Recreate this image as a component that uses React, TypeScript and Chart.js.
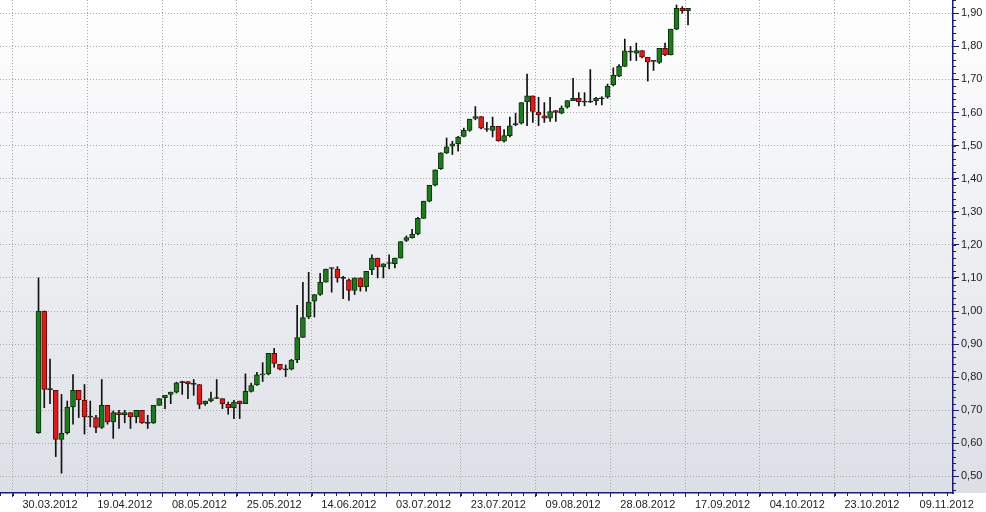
import React, { useEffect, useRef } from 'react';
import { Chart, registerables } from 'chart.js';

Chart.register(...registerables);

// x tick labels (one every 13 trading days, first at index 0)
const dateLabels = [
  '30.03.2012', '19.04.2012', '08.05.2012', '25.05.2012', '14.06.2012', '03.07.2012', '23.07.2012',
  '09.08.2012', '28.08.2012', '17.09.2012', '04.10.2012', '23.10.2012', '09.11.2012',
];
const labelStep = 13;
const firstIndex = -2; // trading-day index of the first candle

const opens = [
  0.632, 1.000, 0.763, 0.760, 0.612, 0.632, 0.710, 0.760, 0.730, 0.682,
  0.678, 0.648, 0.715, 0.665, 0.693, 0.687, 0.693, 0.680, 0.700, 0.662,
  0.662, 0.715, 0.738, 0.748, 0.755, 0.785, 0.787, 0.780, 0.778, 0.720,
  0.728, 0.737, 0.735, 0.718, 0.708, 0.728, 0.720, 0.757, 0.777, 0.807,
  0.810, 0.872, 0.839, 0.824, 0.824, 0.852, 0.920, 0.982, 1.030, 1.050,
  1.087, 1.130, 1.127, 1.100, 1.094, 1.062, 1.100, 1.073, 1.125, 1.160,
  1.133, 1.145, 1.143, 1.160, 1.213, 1.222, 1.233, 1.280, 1.332, 1.380,
  1.430, 1.478, 1.498, 1.506, 1.528, 1.546, 1.582, 1.588, 1.550, 1.546,
  1.558, 1.513, 1.530, 1.565, 1.568, 1.632, 1.650, 1.601, 1.590, 1.583,
  1.606, 1.598, 1.616, 1.636, 1.643, 1.633, 1.633, 1.636, 1.643, 1.646,
  1.683, 1.710, 1.739, 1.784, 1.779, 1.787, 1.767, 1.756, 1.751, 1.794,
  1.774, 1.852, 1.915, 1.908,
];
const highs = [
  1.100, 1.000, 0.855, 0.760, 0.748, 0.728, 0.808, 0.760, 0.778, 0.728,
  0.685, 0.793, 0.715, 0.698, 0.700, 0.700, 0.693, 0.700, 0.700, 0.685,
  0.715, 0.735, 0.745, 0.755, 0.785, 0.788, 0.787, 0.793, 0.778, 0.728,
  0.755, 0.793, 0.735, 0.725, 0.730, 0.728, 0.810, 0.782, 0.815, 0.844,
  0.872, 0.887, 0.839, 0.837, 0.854, 1.017, 1.087, 1.117, 1.050, 1.114,
  1.127, 1.130, 1.134, 1.105, 1.097, 1.100, 1.100, 1.120, 1.170, 1.160,
  1.143, 1.170, 1.160, 1.210, 1.227, 1.247, 1.283, 1.332, 1.380, 1.427,
  1.478, 1.523, 1.513, 1.528, 1.553, 1.580, 1.618, 1.588, 1.570, 1.586,
  1.558, 1.548, 1.586, 1.598, 1.630, 1.716, 1.650, 1.646, 1.630, 1.646,
  1.606, 1.620, 1.636, 1.703, 1.660, 1.660, 1.730, 1.646, 1.648, 1.686,
  1.735, 1.745, 1.822, 1.800, 1.810, 1.787, 1.767, 1.756, 1.794, 1.810,
  1.852, 1.925, 1.920, 1.915,
];
const lows = [
  0.630, 0.708, 0.720, 0.560, 0.510, 0.628, 0.658, 0.678, 0.628, 0.650,
  0.632, 0.645, 0.658, 0.615, 0.645, 0.662, 0.645, 0.662, 0.660, 0.645,
  0.660, 0.715, 0.705, 0.720, 0.752, 0.748, 0.735, 0.745, 0.705, 0.715,
  0.725, 0.735, 0.705, 0.688, 0.675, 0.675, 0.720, 0.755, 0.775, 0.787,
  0.807, 0.830, 0.822, 0.802, 0.822, 0.844, 0.920, 0.977, 0.982, 1.047,
  1.087, 1.057, 1.087, 1.037, 1.032, 1.050, 1.060, 1.060, 1.110, 1.100,
  1.100, 1.127, 1.130, 1.160, 1.210, 1.220, 1.230, 1.280, 1.330, 1.378,
  1.428, 1.476, 1.473, 1.483, 1.526, 1.543, 1.578, 1.550, 1.543, 1.526,
  1.513, 1.510, 1.526, 1.560, 1.565, 1.560, 1.570, 1.560, 1.570, 1.573,
  1.573, 1.596, 1.613, 1.636, 1.620, 1.620, 1.630, 1.623, 1.623, 1.643,
  1.680, 1.708, 1.739, 1.757, 1.757, 1.765, 1.695, 1.727, 1.748, 1.772,
  1.774, 1.850, 1.900, 1.865,
];
const closes = [
  1.000, 0.763, 0.765, 0.612, 0.630, 0.710, 0.760, 0.732, 0.680, 0.680,
  0.648, 0.715, 0.665, 0.693, 0.687, 0.693, 0.680, 0.700, 0.662, 0.662,
  0.715, 0.735, 0.745, 0.755, 0.783, 0.785, 0.780, 0.780, 0.718, 0.728,
  0.735, 0.737, 0.720, 0.708, 0.725, 0.720, 0.757, 0.775, 0.807, 0.810,
  0.872, 0.842, 0.824, 0.824, 0.852, 0.920, 0.980, 1.027, 1.050, 1.087,
  1.127, 1.130, 1.100, 1.100, 1.062, 1.100, 1.073, 1.120, 1.160, 1.133,
  1.143, 1.145, 1.160, 1.210, 1.222, 1.232, 1.280, 1.332, 1.380, 1.427,
  1.478, 1.496, 1.505, 1.526, 1.546, 1.580, 1.588, 1.553, 1.550, 1.558,
  1.515, 1.530, 1.560, 1.565, 1.630, 1.650, 1.603, 1.593, 1.583, 1.603,
  1.600, 1.613, 1.636, 1.643, 1.633, 1.633, 1.633, 1.643, 1.643, 1.680,
  1.713, 1.740, 1.786, 1.784, 1.787, 1.767, 1.752, 1.756, 1.794, 1.774,
  1.852, 1.915, 1.908, 1.915,
];

const Y_MIN = 0.45;
const Y_MAX = 1.94;
const X_MIN = -8.7;
const X_MAX = 157.1;

const AXIS = '#1c1c78';
const GRID = '#a9a9a9';
const UP_FILL = '#1f7a1f';
const UP_EDGE = '#0c300c';
const DOWN_FILL = '#dc1c1c';
const DOWN_EDGE = '#5a0a0a';
const DOJI = '#202020';
const FONT = "'Liberation Sans', Arial, sans-serif";

const bgPlugin = {
  id: 'bgGradient',
  beforeDraw(chart: any) {
    const { ctx, chartArea, width, height } = chart;
    ctx.save();
    ctx.fillStyle = '#ffffff';
    ctx.fillRect(0, 0, width, height);
    const g = ctx.createLinearGradient(0, 0, 0, chartArea.bottom);
    g.addColorStop(0, '#ffffff');
    g.addColorStop(1, '#dcdfe6');
    ctx.fillStyle = g;
    ctx.fillRect(0, 0, width, chartArea.bottom);
    ctx.restore();
  },
};

const minorTicksPlugin = {
  id: 'minorTicks',
  afterDraw(chart: any) {
    const { ctx, scales } = chart;
    const x = scales.x;
    const y = scales.y;
    ctx.save();
    ctx.strokeStyle = AXIS;
    ctx.lineWidth = 1;
    ctx.beginPath();
    for (let k = 23; k <= 97; k++) {
      const v = k * 0.02;
      if (v < Y_MIN || v > Y_MAX) continue;
      const py = Math.round(y.getPixelForValue(v)) + 0.5;
      ctx.moveTo(y.left, py);
      ctx.lineTo(y.left + 3, py);
    }
    for (let k = -4; k <= 73; k++) {
      const v = (k * labelStep) / 6;
      if (v < X_MIN || v > X_MAX) continue;
      const px = Math.round(x.getPixelForValue(v)) + 0.5;
      ctx.moveTo(px, x.top);
      ctx.lineTo(px, x.top + 3);
    }
    ctx.stroke();
    ctx.restore();
  },
};

const noPad = (s: any) => {
  s.paddingTop = 0;
  s.paddingBottom = 0;
  s.paddingLeft = 0;
  s.paddingRight = 0;
};

export default function App() {
  const canvasRef = useRef<HTMLCanvasElement | null>(null);

  useEffect(() => {
    if (!canvasRef.current) return;
    const idx = opens.map((_, i) => firstIndex + i);
    const wickData = idx.map((xi, i) => ({ x: xi, y: [lows[i], highs[i]] }));
    const bodyData = idx.map((xi, i) => {
      const lo = Math.min(opens[i], closes[i]);
      const hi = Math.max(opens[i], closes[i]);
      if (hi - lo < 0.003) {
        const mid = (hi + lo) / 2;
        return { x: xi, y: [mid - 0.0015, mid + 0.0015] };
      }
      return { x: xi, y: [lo, hi] };
    });
    const kind = idx.map((_, i) => {
      const d = closes[i] - opens[i];
      if (Math.abs(d) < 0.003) return 0;
      return d > 0 ? 1 : -1;
    });
    const fills = kind.map((k) => (k === 0 ? DOJI : k > 0 ? UP_FILL : DOWN_FILL));
    const edges = kind.map((k) => (k === 0 ? DOJI : k > 0 ? UP_EDGE : DOWN_EDGE));

    const chart = new Chart(canvasRef.current, {
      type: 'bar',
      data: {
        datasets: [
          {
            label: 'wick',
            data: wickData as any,
            backgroundColor: '#111111',
            barThickness: 1,
            grouped: false,
            order: 2,
          } as any,
          {
            label: 'body',
            data: bodyData as any,
            backgroundColor: fills,
            borderColor: edges,
            borderWidth: 1,
            borderSkipped: false,
            barThickness: 5,
            grouped: false,
            order: 1,
          } as any,
        ],
      },
      options: {
        animation: false,
        responsive: true,
        maintainAspectRatio: false,
        layout: { padding: 0 },
        plugins: {
          legend: { display: false },
          tooltip: { enabled: false },
        },
        scales: {
          x: {
            type: 'linear',
            min: X_MIN,
            max: X_MAX,
            offset: false,
            afterFit: (s: any) => {
              s.height = 19;
              noPad(s);
            },
            ticks: {
              stepSize: labelStep,
              includeBounds: false,
              autoSkip: false,
              maxRotation: 0,
              padding: 1,
              color: '#222222',
              font: { family: FONT, size: 11 },
              callback: (v: any) => {
                const n = Math.round(Number(v) / labelStep);
                return dateLabels[n] ?? '';
              },
            },
            grid: {
              color: GRID,
              lineWidth: 1,
              tickLength: 4,
              tickColor: AXIS,
              tickBorderDash: [],
            },
            border: { display: true, color: AXIS, width: 1.5, dash: [1, 2] },
          },
          y: {
            type: 'linear',
            position: 'right',
            min: Y_MIN,
            max: Y_MAX,
            afterFit: (s: any) => {
              s.width = 33;
              noPad(s);
            },
            ticks: {
              stepSize: 0.1,
              includeBounds: false,
              autoSkip: false,
              padding: 2,
              color: '#222222',
              font: { family: FONT, size: 11 },
              callback: (v: any) => Number(v).toFixed(2).replace('.', ','),
            },
            grid: {
              color: GRID,
              lineWidth: 1,
              tickLength: 6,
              tickColor: AXIS,
              tickBorderDash: [],
            },
            border: { display: true, color: AXIS, width: 1.5, dash: [1, 2] },
          },
        },
      } as any,
      plugins: [bgPlugin, minorTicksPlugin],
    });
    return () => chart.destroy();
  }, []);

  return (
    <div style={{ position: 'fixed', left: 0, top: 0, width: 986, height: 512 }}>
      <canvas ref={canvasRef} />
    </div>
  );
}
